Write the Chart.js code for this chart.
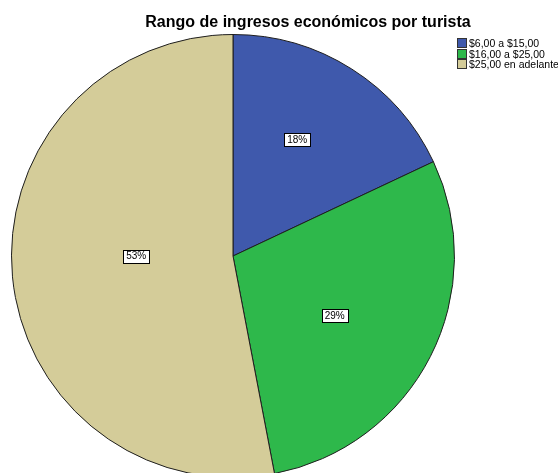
<!DOCTYPE html>
<html>
<head>
<meta charset="utf-8">
<script src="https://cdn.jsdelivr.net/npm/chart.js@4"></script>
<style>
  html, body { margin: 0; padding: 0; background: #fff; overflow: hidden; }
  #wrap { position: relative; width: 558px; height: 473px; overflow: hidden; }
  #c { position: absolute; left: 0; top: 0; }
  #title { position: absolute; left: 108px; top: 13px; width: 400px; text-align: center;
           font: bold 16px "Liberation Sans", Arial, sans-serif; color: #000; }
  #legend { position: absolute; left: 457px; top: 38px; font: 10.5px "Liberation Sans", Arial, sans-serif; color: #000; }
  #legend div { height: 10.5px; line-height: 10.5px; white-space: nowrap; }
  #legend span { display: inline-block; width: 8px; height: 8px; border: 1px solid #333; margin-right: 2px; vertical-align: -1px; }
</style>
</head>
<body>
<div id="wrap">
  <canvas id="c"></canvas>
  <div id="title">Rango de ingresos económicos por turista</div>
  <div id="legend"></div>
</div>
<script>
// ── data ──
const categories = ["$6,00 a $15,00", "$16,00 a $25,00", "$25,00 en adelante"];
const percents   = [18, 29, 53];
const colors     = ["#3F59AC", "#2EB84B", "#D4CC99"];

// legend (html)
const legendEl = document.getElementById("legend");
categories.forEach((c, i) => {
  const d = document.createElement("div");
  d.innerHTML = `<span style="background:${colors[i]}"></span>${c}`;
  legendEl.appendChild(d);
});

// boxed % labels inside each slice
const boxLabels = {
  id: "boxLabels",
  afterDatasetsDraw(chart, args, opts) {
    const ctx = chart.ctx;
    const meta = chart.getDatasetMeta(0);
    ctx.save();
    ctx.font = '10px "Liberation Sans", Arial, sans-serif';
    ctx.textAlign = "center";
    ctx.textBaseline = "middle";
    meta.data.forEach((arc, i) => {
      const p = arc.getProps(["x", "y", "startAngle", "endAngle", "outerRadius"], true);
      const mid = (p.startAngle + p.endAngle) / 2 + opts.shift[i] * Math.PI / 180;
      const r = p.outerRadius * opts.radius[i];
      const x = p.x + Math.cos(mid) * r;
      const y = p.y + Math.sin(mid) * r;
      const txt = percents[i] + "%";
      const w = Math.round(ctx.measureText(txt).width + 6), h = 13;
      const bx = Math.round(x - w / 2) + 0.5, by = Math.round(y - h / 2) + 0.5;
      ctx.fillStyle = "#fff";
      ctx.fillRect(bx, by, w, h);
      ctx.strokeStyle = "#000";
      ctx.lineWidth = 1;
      ctx.strokeRect(bx, by, w, h);
      ctx.fillStyle = "#000";
      ctx.fillText(txt, x, y + 0.5);
    });
    ctx.restore();
  }
};

// canvas taller than the window so the pie runs off the bottom like the original
const canvas = document.getElementById("c");
canvas.width = 558; canvas.height = 500;
canvas.style.width = "558px"; canvas.style.height = "500px";

new Chart(canvas, {
  type: "pie",
  data: {
    labels: categories,
    datasets: [{
      data: percents,
      backgroundColor: colors,
      borderColor: "#1e1e1e",
      borderWidth: 1
    }]
  },
  options: {
    responsive: false,
    animation: false,
    layout: { padding: { left: 11, top: 34, right: 103, bottom: 22 } },
    plugins: {
      legend: { display: false },
      title: { display: false },
      tooltip: { enabled: false },
      boxLabels: { radius: [0.6, 0.533, 0.437], shift: [-3.5, 3.5, 5.4] }
    }
  },
  plugins: [boxLabels]
});
</script>
</body>
</html>
